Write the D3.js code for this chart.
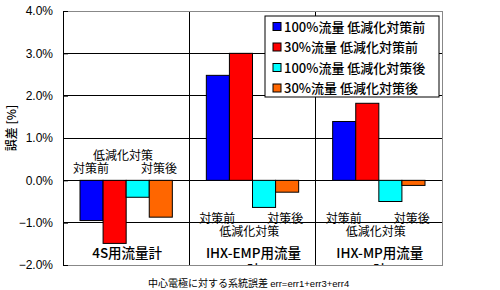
<!DOCTYPE html>
<html>
<head>
<meta charset="utf-8">
<script src="https://cdn.jsdelivr.net/npm/d3@7"></script>
<style>
  body { margin: 0; background: #fff; }
  text { font-family: "Noto Sans CJK JP", "Liberation Sans", sans-serif; }
</style>
</head>
<body>
<svg width="500" height="290"></svg>
<script>
// data
var categories = ["4S用流量計", "IHX-EMP用流量計", "IHX-MP用流量計"];
var catLines = [["4S用流量計"], ["IHX-EMP用流量", "計"], ["IHX-MP用流量", "計"]];
var seriesNames = ["100%流量 低減化対策前", "30%流量 低減化対策前", "100%流量 低減化対策後", "30%流量 低減化対策後"];
var before100 = [-0.95, 2.48, 1.39];
var before30 = [-1.49, 3.00, 1.82];
var after100 = [-0.40, -0.64, -0.50];
var after30 = [-0.87, -0.28, -0.12];
var yTicks = [-2, -1, 0, 1, 2, 3, 4];
var colors = ["#0000ff", "#ff0000", "#00ffff", "#ff6600"];

var svg = d3.select("svg");
var pLeft = 63, pRight = 442, pTop = 11, pBottom = 265;

var series = [before100, before30, after100, after30];

var y = d3.scaleLinear().domain([-2, 4]).range([pBottom, pTop]);
var x0 = d3.scaleBand().domain(categories).range([pLeft, pRight]);
var x1 = d3.scaleBand().domain(seriesNames).range([17, x0.bandwidth() - 17]);
var fmt = d3.format(".1f");

svg.append("clipPath").attr("id", "plotclip")
  .append("rect").attr("x", pLeft).attr("y", pTop).attr("width", pRight - pLeft).attr("height", pBottom - pTop);

// gridlines
svg.append("g").selectAll("line")
  .data(yTicks.filter(function(d) { return d > -2 && d < 4; }))
  .enter().append("line")
    .attr("x1", pLeft).attr("x2", pRight)
    .attr("y1", function(d) { return y(d); }).attr("y2", function(d) { return y(d); })
    .attr("stroke", "#000").attr("stroke-width", 1).attr("shape-rendering", "crispEdges");

svg.append("g").selectAll("line")
  .data(categories.slice(1))
  .enter().append("line")
    .attr("x1", function(d) { return x0(d); }).attr("x2", function(d) { return x0(d); })
    .attr("y1", pTop).attr("y2", pBottom)
    .attr("stroke", "#000").attr("shape-rendering", "crispEdges");

// frame
svg.append("path")
  .attr("d", "M" + pLeft + "," + pTop + "H" + pRight + "V" + pBottom + "H" + pLeft)
  .attr("fill", "none").attr("stroke", "#888").attr("shape-rendering", "crispEdges");

// bars
var group = svg.append("g").selectAll("g")
  .data(categories)
  .enter().append("g")
    .attr("transform", function(d) { return "translate(" + x0(d) + ",0)"; });

group.selectAll("rect")
  .data(function(d, i) { return seriesNames.map(function(s, j) { return {s: s, j: j, v: series[j][i]}; }); })
  .enter().append("rect")
    .attr("x", function(d) { return x1(d.s); })
    .attr("width", x1.bandwidth())
    .attr("y", function(d) { return y(Math.max(0, d.v)); })
    .attr("height", function(d) { return Math.abs(y(d.v) - y(0)); })
    .attr("fill", function(d) { return colors[d.j]; })
    .attr("stroke", "#000").attr("stroke-width", 1);

// annotations
var annoAbove = [true, false, false];
group.each(function(c, i) {
  var g = d3.select(this);
  var up = annoAbove[i];
  var yA = up ? y(0.48) : y(-1.32);
  var yB = up ? y(0.17) : y(-1.01);
  g.append("text").attr("x", 60).attr("y", yA).attr("text-anchor", "middle")
    .attr("font-size", 12).text("低減化対策");
  g.append("text").attr("x", 28).attr("y", yB).attr("text-anchor", "middle")
    .attr("font-size", 12).text("対策前");
  g.append("text").attr("x", 96).attr("y", yB).attr("text-anchor", "middle")
    .attr("font-size", 12).text("対策後");
  // category label, wrapped; the second line is cut by the plot frame
  var t = g.append("text").attr("clip-path", "url(#plotclip)")
    .attr("transform", "translate(" + (-x0(c)) + ",0)")
    .attr("text-anchor", "middle").attr("font-size", 13.5).attr("font-weight", 500);
  catLines[i].forEach(function(line, k) {
    t.append("tspan").attr("x", x0(c) + x0.bandwidth() / 2 + 1).attr("y", 258 + k * 17).text(line);
  });
});

// y axis
var axis = svg.append("g").attr("transform", "translate(" + pLeft + ",0)")
  .call(d3.axisLeft(y).tickValues(yTicks).tickFormat(function(d) { return fmt(d) + "%"; })
    .tickSize(-5).tickPadding(10));
axis.select(".domain").remove();
axis.append("line").attr("y1", pTop).attr("y2", pBottom).attr("stroke", "#000").attr("shape-rendering", "crispEdges");
axis.selectAll(".tick line").attr("stroke", "#000");
axis.selectAll(".tick text").attr("fill", "#000").attr("font-size", 12)
  .style("font-family", "'Liberation Sans', Arial, sans-serif");

svg.append("text")
  .attr("transform", "translate(16,128) rotate(-90)")
  .attr("text-anchor", "middle").attr("font-size", 12).attr("font-weight", 500)
  .text("誤差 [%]");

// x title
var xt = svg.append("text").attr("x", 148).attr("y", 287).attr("font-size", 10);
xt.append("tspan").text("中心電極に対する系統誤差 ");
xt.append("tspan").style("font-family", "'Liberation Sans', Arial, sans-serif").attr("font-size", 9.5)
  .text("err=err1+err3+err4");

// legend
var lg = svg.append("g").attr("transform", "translate(265,16)");
lg.append("rect").attr("width", 174).attr("height", 81).attr("fill", "#fff").attr("stroke", "#000");
var item = lg.selectAll("g").data(seriesNames).enter().append("g")
  .attr("transform", function(d, i) { return "translate(8," + (10.5 + i * 20.5) + ")"; });
item.append("rect").attr("x", 0).attr("y", -4).attr("width", 8).attr("height", 8)
  .attr("fill", function(d, i) { return colors[i]; }).attr("stroke", "#000");
item.append("text").attr("x", 11).attr("y", 5).attr("font-size", 13).attr("font-weight", 500)
  .text(function(d) { return d; });
</script>
</body>
</html>
